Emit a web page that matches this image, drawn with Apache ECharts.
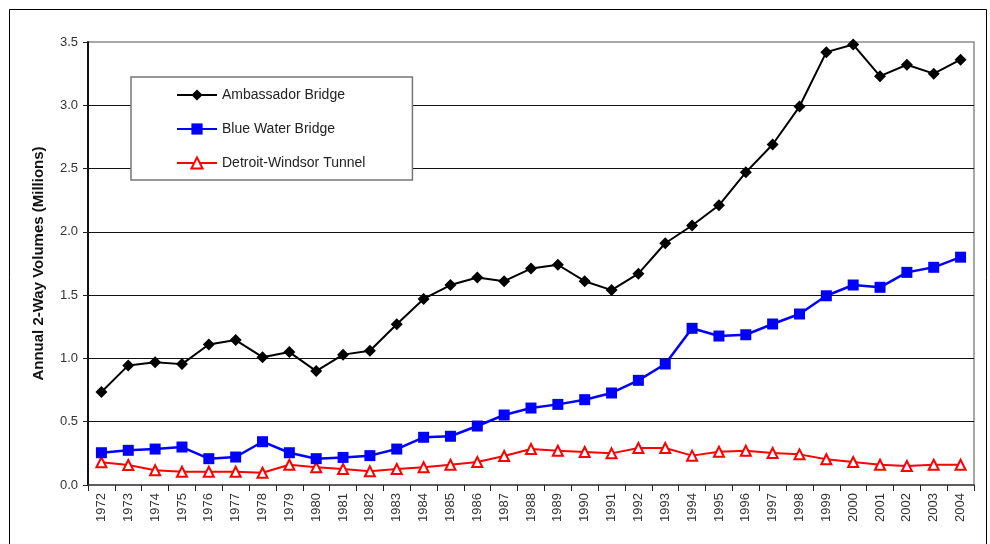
<!DOCTYPE html>
<html><head><meta charset="utf-8">
<script src="https://cdn.jsdelivr.net/npm/echarts@6/dist/echarts.min.js"></script>
<style>html,body{margin:0;padding:0;background:#fff}#c{width:990px;height:544px}</style>
</head><body><div id="c"></div>
<script>
const years = ['1972','1973','1974','1975','1976','1977','1978','1979','1980','1981','1982','1983','1984','1985','1986','1987','1988','1989','1990','1991','1992','1993','1994','1995','1996','1997','1998','1999','2000','2001','2002','2003','2004'];
const ambassador = [0.735,0.945,0.97,0.955,1.11,1.145,1.01,1.05,0.90,1.03,1.06,1.27,1.47,1.58,1.64,1.61,1.71,1.74,1.61,1.54,1.67,1.91,2.05,2.21,2.47,2.69,2.99,3.42,3.48,3.23,3.32,3.25,3.36];
const blueWater = [0.255,0.274,0.284,0.30,0.208,0.221,0.342,0.255,0.208,0.218,0.232,0.284,0.377,0.385,0.466,0.553,0.608,0.637,0.674,0.727,0.827,0.956,1.238,1.177,1.187,1.272,1.351,1.495,1.58,1.562,1.68,1.72,1.80];
const tunnel = [0.179,0.158,0.116,0.105,0.105,0.105,0.097,0.16,0.14,0.126,0.108,0.126,0.14,0.16,0.182,0.229,0.284,0.271,0.261,0.25,0.292,0.292,0.232,0.263,0.271,0.253,0.242,0.203,0.182,0.16,0.15,0.16,0.16];
const yTicks = ['0.0','0.5','1.0','1.5','2.0','2.5','3.0','3.5'];
const seriesNames = ['Ambassador Bridge','Blue Water Bridge','Detroit-Windsor Tunnel'];

const FONT = 'Liberation Sans';
const chart = echarts.init(document.getElementById('c'), null, {renderer:'canvas'});
chart.setOption({
  animation:false,
  backgroundColor:'#fff',
  textStyle:{fontFamily:FONT},
  graphic:[{type:'rect',shape:{x:9.5,y:9.5,width:977,height:560},style:{fill:'none',stroke:'#000',lineWidth:1},z:-1}],
  grid:{left:88,right:16,top:42,bottom:59,show:true,borderColor:'#8c8c8c',borderWidth:1.5,backgroundColor:'#fff'},
  legend:{
    orient:'vertical',left:131,top:77,
    data:seriesNames,
    itemWidth:40,itemHeight:14,itemGap:20,
    padding:[11,47,10,45],
    backgroundColor:'#fff',borderColor:'#777',borderWidth:1.5,
    textStyle:{fontFamily:FONT,fontSize:14,color:'#222'},
    selectedMode:false
  },
  xAxis:{
    type:'category',data:years,boundaryGap:true,
    axisLine:{lineStyle:{color:'#444',width:1.5}},
    axisTick:{show:true,length:6,lineStyle:{color:'#222'}},
    axisLabel:{rotate:90,fontFamily:FONT,fontSize:13,color:'#333',margin:8,interval:0}
  },
  yAxis:{
    type:'value',min:0,max:3.5,interval:0.5,
    name:'Annual 2-Way Volumes (Millions)',nameLocation:'middle',nameGap:42,
    nameTextStyle:{fontFamily:FONT,fontSize:15,fontWeight:'bold',color:'#111'},
    axisLine:{show:true,lineStyle:{color:'#111',width:2}},
    axisTick:{show:true,length:5,lineStyle:{color:'#222'}},
    axisLabel:{fontFamily:FONT,fontSize:13,color:'#333',margin:10,formatter:(v)=>yTicks[Math.round(v*2)]},
    splitLine:{show:true,showMinLine:false,showMaxLine:false,lineStyle:{color:'#111',width:1.2}}
  },
  series:[
    {name:seriesNames[0],type:'line',data:ambassador,symbol:'diamond',symbolSize:12,
     lineStyle:{color:'#000',width:2},itemStyle:{color:'#000'},z:5},
    {name:seriesNames[1],type:'line',data:blueWater,symbol:'rect',symbolSize:11,
     lineStyle:{color:'#0000ff',width:2.5},itemStyle:{color:'#0000ff'},z:4},
    {name:seriesNames[2],type:'line',data:tunnel,symbol:'triangle',symbolSize:10,
     lineStyle:{color:'#ff0000',width:2},itemStyle:{color:'#fff',borderColor:'#ff0000',borderWidth:2},z:3}
  ]
});
</script></body></html>
